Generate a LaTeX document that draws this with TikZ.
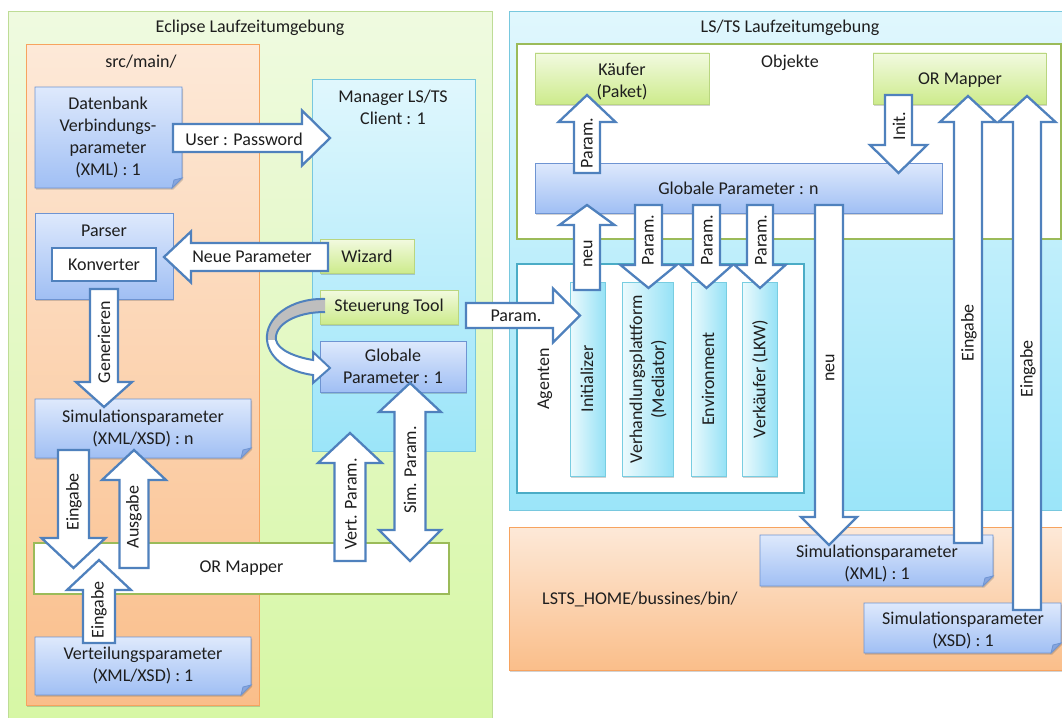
\documentclass[tikz,border=0pt]{standalone}
\usepackage{fontspec}
\setmainfont{Carlito}
\usetikzlibrary{shadows}
\definecolor{tc}{RGB}{30,30,30}
\definecolor{arrB}{RGB}{79,129,189}
\definecolor{docT}{RGB}{222,233,252}
\definecolor{docB}{RGB}{160,191,244}
\definecolor{docD}{RGB}{110,148,210}
\definecolor{docF}{RGB}{135,165,222}
\definecolor{grT}{RGB}{242,250,224}
\definecolor{grB}{RGB}{205,235,140}
\definecolor{grD}{RGB}{185,214,128}
\definecolor{cyL}{RGB}{236,250,253}
\definecolor{cyR}{RGB}{150,226,246}
\definecolor{cyD}{RGB}{120,205,225}
\definecolor{mT}{RGB}{224,247,253}
\definecolor{mB}{RGB}{155,229,249}
\definecolor{mD}{RGB}{120,200,222}
\definecolor{eT}{RGB}{239,250,224}
\definecolor{eB}{RGB}{214,247,164}
\definecolor{eD}{RGB}{190,220,150}
\definecolor{oT}{RGB}{253,233,216}
\definecolor{oB}{RGB}{250,190,138}
\definecolor{oD}{RGB}{247,163,95}
\definecolor{orD}{RGB}{155,187,89}
\definecolor{agD}{RGB}{75,172,198}
\definecolor{grayc}{RGB}{190,190,190}

\newcommand{\mydoc}[4]{%
  \path[docsty] (#1,#2) -- (#3,#2) -- (#3,#4-10) -- (#3-10,#4) -- (#1,#4) -- cycle;
  \path[foldsty] (#3,#4-10) -- (#3-10,#4) -- (#3-8,#4-8) -- cycle;}
\newcommand{\myvarr}[7]{% name, x, ytail, ytip, bodyhalf, headhalf, headlen
  \pgfmathsetmacro{\myhb}{#4-((#4>#3)?1:-1)*#7}%
  \path[blk] (#2-#5,#3) -- (#2-#5,\myhb) -- (#2-#6,\myhb) -- (#2,#4) -- (#2+#6,\myhb) -- (#2+#5,\myhb) -- (#2+#5,#3) -- cycle;
  \coordinate (#1) at (#2,#4);}
\newcommand{\myharr}[7]{% name, y, xtail, xtip, bodyhalf, headhalf, headlen
  \pgfmathsetmacro{\myhb}{#4-((#4>#3)?1:-1)*#7}%
  \path[blk] (#3,#2-#5) -- (\myhb,#2-#5) -- (\myhb,#2-#6) -- (#4,#2) -- (\myhb,#2+#6) -- (\myhb,#2+#5) -- (#3,#2+#5) -- cycle;
  \coordinate (#1) at (#4,#2);}

\begin{document}
\begin{tikzpicture}[x=1pt,y=-1pt,
  txt/.style={font=\fontsize{18}{22}\selectfont, text=tc, align=center, inner sep=0pt},
  shd/.style={drop shadow={shadow xshift=1.2pt, shadow yshift=-1.6pt, opacity=0.25, fill=black!70}},
  blk/.style={draw=arrB, line width=2.3pt, fill=white, line join=miter, miter limit=10},
  docsty/.style={top color=docT, bottom color=docB, draw=docD, line width=0.8pt, shd},
  foldsty/.style={fill=docF, draw=docD, line width=0.8pt},
  gbox/.style={txt, top color=grT, bottom color=grB, draw=grD, line width=0.8pt, shd},
  bbox/.style={txt, top color=docT, bottom color=docB, draw=docD, line width=0.8pt, shd},
  cbox/.style={left color=cyL, right color=cyR, draw=cyD, line width=0.8pt, shd},
]
\useasboundingbox (0,0) rectangle (1062,717);
\fill[white] (0,0) rectangle (1062,717);

% ---------- left: Eclipse ----------
\path[top color=eT, bottom color=eB, draw=eD, line width=1pt] (8,12) rectangle (492,730);
\node[txt] (eclT) at (250,28) {Eclipse Laufzeitumgebung};
\path[top color=oT, bottom color=oB, draw=oD, line width=1pt, shd] (26,45) rectangle (259,705);
\node[txt] (srcT) at (141,62) {src/main/};
\path[top color=mT, bottom color=mB, draw=mD, line width=1pt] (312,79) rectangle (475,451);
\node[txt] (mgr) at (393,107) {Manager LS/TS\\Client : 1};

\mydoc{35}{87}{182}{188}
\node[txt] (db) at (108,137) {Datenbank\\Verbindungs-\\parameter\\(XML) : 1};

\node[bbox, minimum width=138, minimum height=86] (parser) at (104,256) {};
\node[txt] (parserT) at (104,231) {Parser};
\node[txt, draw=arrB, line width=2.3pt, fill=white, minimum width=104, minimum height=33] (konv) at (104,264.5) {Konverter};

\mydoc{35}{399}{251}{458}
\node[txt] (simn) at (143,428) {Simulationsparameter\\(XML/XSD) : n};
\mydoc{35}{637}{251}{695}
\node[txt] (vert) at (143,665) {Verteilungsparameter\\(XML/XSD) : 1};

\node[txt, draw=orD, line width=2.2pt, fill=white, minimum width=415, minimum height=51] (ormap) at (241.5,568.5) {OR Mapper};

\node[gbox, minimum width=94, minimum height=34] (wizard) at (367,256) {Wizard};
\node[gbox, minimum width=138, minimum height=34] (steu) at (389,307) {Steuerung Tool};
\node[bbox, minimum width=146, minimum height=51] (glob1) at (393,366.5) {Globale\\Parameter : 1};

% ---------- right: LS/TS ----------
\path[top color=mT, bottom color=mB, draw=mD, line width=1pt] (509,12) rectangle (1080,510);
\node[txt] (lstsT) at (790,28) {LS/TS Laufzeitumgebung};
\path[fill=white, draw=orD, line width=2.2pt] (517,44) rectangle (1061,239);
\node[txt] (objT) at (790,63) {Objekte};
\path[fill=white, draw=agD, line width=2.2pt] (517,264) rectangle (804,493);
\node[txt, rotate=90] (agT) at (545,379) {Agenten};
\path[top color=oT, bottom color=oB, draw=oD, line width=1pt, shd] (509,527) rectangle (1080,670);
\node[txt, anchor=west] (homeT) at (542,599) {LSTS\_HOME/bussines/bin/};

\node[gbox, minimum width=174, minimum height=51] (kaeufer) at (622,78.5) {};
\node[txt] (kaeuferT) at (622,82) {Käufer\\(Paket)};
\node[gbox, minimum width=173, minimum height=51] (ormap2) at (959.5,78.5) {};
\node[txt] (ormap2T) at (960,80) {OR Mapper};
\node[bbox, minimum width=407, minimum height=50] (globn) at (738.5,188) {Globale Parameter : n};

\node[cbox, minimum width=35, minimum height=194] (init) at (587.5,379) {};
\node[cbox, minimum width=51, minimum height=194] (verh) at (647.5,379) {};
\node[cbox, minimum width=35, minimum height=194] (env) at (708.5,379) {};
\node[cbox, minimum width=35, minimum height=194] (verk) at (759.5,379) {};
\node[txt, rotate=90] (initT) at (587,379) {Initializer};
\node[txt, rotate=90] (verhT) at (648,379) {Verhandlungsplattform\\(Mediator)};
\node[txt, rotate=90] (envT) at (708,379) {Environment};
\node[txt, rotate=90] (verkT) at (760,379) {Verkäufer (LKW)};

\mydoc{760}{535}{993}{586}
\node[txt] (simxml) at (877,563) {Simulationsparameter\\(XML) : 1};
\mydoc{864}{603}{1061}{653}
\node[txt] (simxsd) at (963,630) {Simulationsparameter\\(XSD) : 1};

% ---------- block arrows, left ----------
\myharr{apw}{138}{173}{330}{14}{27.5}{28}
\node[txt] (tpw) at (244,139) {User : Password};
\myharr{anp}{257}{328}{164}{14}{25.5}{27}
\node[txt] (tnp) at (252,257) {Neue Parameter};
\myvarr{agen}{104}{289}{407}{14}{28}{25}
\node[txt, rotate=90] (tgen) at (104,342) {Generieren};
\myvarr{aein1}{73.5}{450}{568}{15.5}{32}{30}
\node[txt, rotate=90] (tein1) at (74,502) {Eingabe};
\myvarr{aaus}{134}{568}{450}{14.5}{32}{30}
\node[txt, rotate=90] (taus) at (134,517) {Ausgabe};
\myvarr{aein2}{99}{643}{560}{16}{32}{30}
\node[txt, rotate=90] (tein2) at (99,610) {Eingabe};
\myvarr{avert}{350}{561}{433}{15.5}{32}{30}
\node[txt, rotate=90] (tvert) at (351,504) {Vert. Param.};
\path[blk] (394.5,412) -- (379,412) -- (410,383) -- (441,412) -- (425.5,412) -- (425.5,530) -- (441,530) -- (410,561) -- (379,530) -- (394.5,530) -- cycle;
\node[txt, rotate=90] (tsim) at (410,470) {Sim. Param.};
\myharr{apar}{315.5}{466}{580}{12.5}{27}{27}
\node[txt] (tpar) at (516,316) {Param.};

% curved arrow Steuerung Tool -> Globale Parameter : 1
\fill[grayc] (325,299) .. controls (290,298) and (265,318) .. (267,340) -- (276,340) .. controls (274,325) and (295,312) .. (325,312) -- cycle;
\fill[white] (267,340) .. controls (269,360) and (290,372) .. (313,375) -- (313,383) -- (330,368) -- (313,352) -- (313,360) .. controls (295,357) and (278,350) .. (276,340) -- cycle;
\draw[arrB, line width=2pt, line join=miter] (325,312) .. controls (295,312) and (274,325) .. (276,340) .. controls (278,350) and (295,357) .. (313,360) -- (313,352) -- (330,368) -- (313,383) -- (313,375) .. controls (290,372) and (269,360) .. (267,340) .. controls (265,318) and (290,298) .. (325,299);

% ---------- block arrows, right ----------
\myvarr{akp}{587}{173}{95}{13}{28.5}{27}
\node[txt, rotate=90] (tkp) at (587,143) {Param.};
\myvarr{ainit}{898.5}{95}{173}{13.5}{28.5}{28}
\node[txt, rotate=90] (tinit) at (899,126) {Init.};
\myvarr{aneu1}{587}{290}{205}{13}{27.5}{20}
\node[txt, rotate=90] (tneu1) at (588,254) {neu};
\myvarr{ap1}{648.5}{205}{288}{13.5}{28}{23}
\node[txt, rotate=90] (tp1) at (648,240) {Param.};
\myvarr{ap2}{706.5}{205}{288}{13.5}{26}{23}
\node[txt, rotate=90] (tp2) at (707,240) {Param.};
\myvarr{ap3}{760}{205}{288}{13}{25.5}{23}
\node[txt, rotate=90] (tp3) at (761,240) {Param.};
\myvarr{aneu2}{829}{205}{545}{14}{28}{28}
\node[txt, rotate=90] (tneu2) at (830,368) {neu};
\myvarr{aein3}{968}{543}{96}{14}{28}{26}
\node[txt, rotate=90] (tein3) at (969,333) {Eingabe};
\myvarr{aein4}{1027}{610}{96}{14}{28.5}{26}
\node[txt, rotate=90] (tein4) at (1028,369) {Eingabe};
\end{tikzpicture}
\end{document}
